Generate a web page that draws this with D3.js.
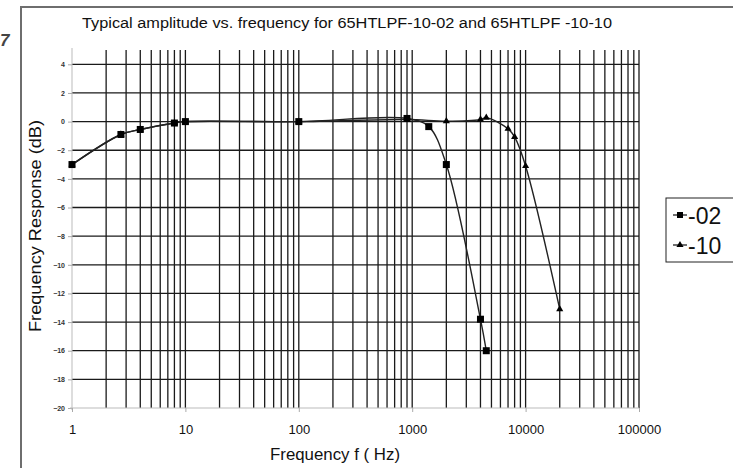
<!DOCTYPE html>
<html>
<head>
<meta charset="utf-8">
<script src="https://d3js.org/d3.v7.min.js"></script>
<style>
  body { margin: 0; background: #fff; }
  svg { display: block; font-family: "Liberation Sans", Arial, sans-serif; }
</style>
</head>
<body>
<div class="chart"></div>
<script>
// series (Hz, dB)
var freq02 = [1, 2.7, 4, 8, 10, 100, 900, 1400, 2000, 4000, 4500];
var resp02 = [-3, -0.9, -0.55, -0.1, 0, 0, 0.22, -0.35, -3, -13.8, -16];
var freq10 = [1, 2.7, 4, 8, 10, 100, 900, 2000, 4000, 4500, 7000, 8000, 10000, 20000];
var resp10 = [-3, -0.9, -0.55, -0.1, 0, 0, 0.15, 0.03, 0.15, 0.28, -0.5, -1.07, -3.1, -13.1];
var seriesNames = ["-02", "-10"];
var yTicks = [-20, -18, -16, -14, -12, -10, -8, -6, -4, -2, 0, 2, 4];
var xTicks = [1, 10, 100, 1000, 10000, 100000];

function makeChart() {
    var svgWidth = 733, svgHeight = 468;
    var margin = { top: 50, left: 72 };
    var width = 639 - 72, height = 408 - 50;

    var svg = d3.select(".chart").append("svg")
        .attr("width", svgWidth)
        .attr("height", svgHeight);

    // outer frame (only left/top edges visible)
    svg.append("rect")
        .attr("x", 21).attr("y", 7)
        .attr("width", 900).attr("height", 700)
        .attr("fill", "none").attr("stroke", "#6e6e6e").attr("stroke-width", 2);

    // glyph at the far left
    svg.append("text")
        .attr("x", 0).attr("y", 46)
        .attr("font-size", 17).attr("font-weight", "bold").attr("fill", "#444")
        .attr("font-style", "italic")
        .text("7");

    svg.append("text")
        .attr("x", 347).attr("y", 28)
        .attr("text-anchor", "middle")
        .attr("font-size", 15.5)
        .attr("textLength", 530).attr("lengthAdjust", "spacingAndGlyphs")
        .attr("fill", "#111")
        .text("Typical amplitude vs. frequency for 65HTLPF-10-02 and 65HTLPF -10-10");

    var chartGroup = svg.append("g")
        .attr("transform", `translate(${margin.left}, ${margin.top})`);

    var x = d3.scaleLog().domain([1, 100000]).range([0, width]);
    var y = d3.scaleLinear().domain([-20, 5]).range([height, 0]);

    // vertical grid at every log tick except the left edge
    var minorVals = [];
    for (var d = 1; d < 100000; d *= 10) {
        for (var k = 2; k <= 10; k++) minorVals.push(d * k);
    }
    chartGroup.selectAll(".vgrid").data(minorVals).enter().append("line")
        .attr("x1", d => x(d)).attr("x2", d => x(d))
        .attr("y1", 0).attr("y2", height)
        .attr("stroke", "#1a1a1a").attr("stroke-width", 1.3);

    chartGroup.selectAll(".hgrid").data(yTicks.filter(t => t > -20)).enter().append("line")
        .attr("x1", 0).attr("x2", width)
        .attr("y1", d => y(d)).attr("y2", d => y(d))
        .attr("stroke", "#1a1a1a").attr("stroke-width", 1.3);

    // axes
    var leftAxis = d3.axisLeft(y).tickValues(yTicks).tickSize(4).tickPadding(3)
        .tickFormat(d3.format("d"));
    var gy = chartGroup.append("g").call(leftAxis);
    gy.select(".domain").attr("stroke", "#bbb").attr("d", `M0,-2V${height + 2}`);
    gy.selectAll(".tick line").attr("stroke", "#aaa");
    gy.selectAll(".tick text").attr("font-size", 7).attr("font-weight", "bold").attr("fill", "#333");

    var bottomAxis = d3.axisBottom(x).tickValues(xTicks).tickSize(4).tickPadding(13)
        .tickFormat(d3.format("d"));
    var gx = chartGroup.append("g")
        .attr("transform", `translate(0, ${height})`)
        .call(bottomAxis);
    gx.select(".domain").attr("stroke", "#bbb").attr("d", `M-2,0H${width}`);
    gx.selectAll(".tick line").attr("stroke", "#aaa");
    gx.selectAll(".tick text").attr("font-size", 13).attr("fill", "#111");

    svg.append("text")
        .attr("x", 335).attr("y", 460)
        .attr("text-anchor", "middle")
        .attr("font-size", 16.5).attr("fill", "#111")
        .attr("textLength", 130).attr("lengthAdjust", "spacingAndGlyphs")
        .text("Frequency f ( Hz)");

    svg.append("text")
        .attr("transform", "translate(41, 226) rotate(-90)")
        .attr("text-anchor", "middle")
        .attr("font-size", 16.5).attr("fill", "#111")
        .attr("textLength", 212).attr("lengthAdjust", "spacingAndGlyphs")
        .text("Frequency Response (dB)");

    var line = d3.line()
        .x(d => x(d[0]))
        .y(d => y(d[1]))
        .curve(d3.curveCatmullRom.alpha(0.5));

    var data10 = freq10.map((f, i) => [f, resp10[i]]);
    var data02 = freq02.map((f, i) => [f, resp02[i]]);

    chartGroup.append("path").datum(data10)
        .attr("d", line).attr("fill", "none")
        .attr("stroke", "#222").attr("stroke-width", 1.4);
    chartGroup.append("path").datum(data02)
        .attr("d", line).attr("fill", "none")
        .attr("stroke", "#222").attr("stroke-width", 1.4);

    var tri = d3.symbol().type(d3.symbolTriangle).size(22);
    chartGroup.selectAll(".tri").data(data10).enter().append("path")
        .attr("d", tri)
        .attr("transform", d => `translate(${x(d[0])}, ${y(d[1])})`)
        .attr("fill", "#000");

    chartGroup.selectAll(".sq").data(data02).enter().append("rect")
        .attr("x", d => x(d[0]) - 3.5).attr("y", d => y(d[1]) - 3.5)
        .attr("width", 7).attr("height", 7)
        .attr("fill", "#000");

    // legend
    var legend = svg.append("g");
    legend.append("rect")
        .attr("x", 666).attr("y", 198)
        .attr("width", 100).attr("height", 64)
        .attr("fill", "#fff").attr("stroke", "#222").attr("stroke-width", 1);
    var rows = [{ name: seriesNames[0], y: 215, sym: "sq" }, { name: seriesNames[1], y: 245, sym: "tri" }];
    rows.forEach(function(r) {
        legend.append("line")
            .attr("x1", 673).attr("x2", 687)
            .attr("y1", r.y).attr("y2", r.y)
            .attr("stroke", "#222").attr("stroke-width", 1.3);
        if (r.sym === "sq") {
            legend.append("rect")
                .attr("x", 677).attr("y", r.y - 3).attr("width", 6).attr("height", 6)
                .attr("fill", "#000");
        } else {
            legend.append("path").attr("d", tri)
                .attr("transform", `translate(680, ${r.y})`).attr("fill", "#000");
        }
        legend.append("text")
            .attr("x", 688).attr("y", r.y + 8.5)
            .attr("font-size", 23).attr("fill", "#111")
            .text(r.name);
    });
}

makeChart();
</script>
</body>
</html>
